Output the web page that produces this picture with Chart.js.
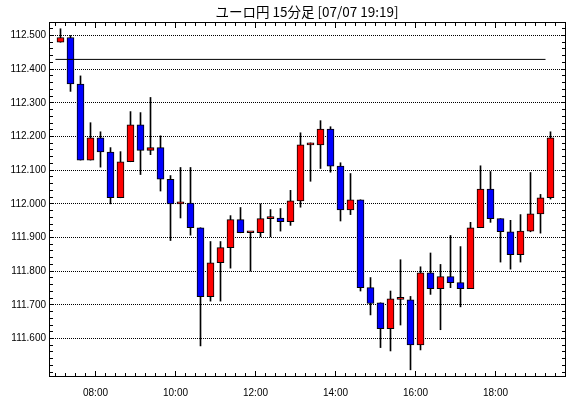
<!DOCTYPE html>
<html><head><meta charset="utf-8">
<script src="https://cdn.jsdelivr.net/npm/chart.js@4/dist/chart.umd.min.js"></script>
<style>html,body{margin:0;padding:0;background:#fff;}canvas{display:block;}</style>
</head><body>
<canvas id="c" width="570" height="398"></canvas>
<script>
const titleText = 'ユーロ円 15分足 [07/07 19:19]';
const times = ['07:00','07:15','07:30','07:45','08:00','08:15','08:30','08:45','09:00','09:15',
  '09:30','09:45','10:00','10:15','10:30','10:45','11:00','11:15','11:30','11:45',
  '12:00','12:15','12:30','12:45','13:00','13:15','13:30','13:45','14:00','14:15',
  '14:30','14:45','15:00','15:15','15:30','15:45','16:00','16:15','16:30','16:45',
  '17:00','17:15','17:30','17:45','18:00','18:15','18:30','18:45','19:00','19:15'];
const open = [112.480,112.494,112.356,112.130,112.196,112.154,112.018,112.125,112.235,112.159,
  112.167,112.073,112.000,112.002,111.929,111.724,111.825,111.870,111.953,111.914,
  111.914,111.956,111.958,111.947,112.009,112.175,112.175,112.222,112.112,111.982,
  112.012,111.751,111.706,111.629,111.716,111.715,111.581,111.795,111.748,111.784,
  111.766,111.748,111.929,112.044,111.956,111.917,111.849,111.919,111.970,112.018];
const high = [112.520,112.500,112.380,112.241,112.214,112.167,112.155,112.274,112.271,112.316,
  112.202,112.084,112.108,112.108,111.929,111.888,111.888,111.965,111.989,111.916,
  112.000,111.983,111.986,112.040,112.211,112.181,112.247,112.229,112.122,112.090,
  112.012,111.781,111.706,111.741,111.834,111.725,111.813,111.854,111.820,111.906,
  111.873,111.945,112.113,112.096,111.956,111.951,111.968,112.093,112.028,112.214];
const low = [112.480,112.334,112.130,112.130,112.109,112.000,112.018,112.125,112.087,112.146,
  112.038,111.891,111.958,111.907,111.578,111.711,111.711,111.809,111.914,111.800,
  111.902,111.902,111.919,111.936,111.990,112.067,112.105,112.094,111.949,111.968,
  111.741,111.670,111.573,111.563,111.640,111.507,111.566,111.731,111.626,111.751,
  111.694,111.748,111.929,111.945,111.827,111.806,111.827,111.917,111.913,112.014];
const close = [112.494,112.356,112.130,112.196,112.154,112.018,112.125,112.235,112.159,112.167,
  112.073,112.000,112.002,111.929,111.724,111.825,111.870,111.953,111.914,111.915,
  111.956,111.958,111.947,112.009,112.175,112.177,112.222,112.112,111.982,112.012,
  111.751,111.704,111.629,111.718,111.718,111.581,111.795,111.748,111.784,111.766,
  111.748,111.929,112.044,111.956,111.917,111.849,111.919,111.970,112.018,112.196];
const xTickLabels = ['08:00','10:00','12:00','14:00','16:00','18:00'];
const yTickLabels = ['111.600','111.700','111.800','111.900','112.000','112.100','112.200','112.300','112.400','112.500'];
const refLevel = 112.429;
const refStartTime = '07:00';
const refEndTime = '19:15';

const UP = '#ff0000', DOWN = '#0000ff';
const wickData = times.map((t, i) => ({x: i, y: [low[i], high[i]]}));
const bodyData = times.map((t, i) => ({x: i, y: [open[i], close[i]]}));
const bodyColors = times.map((t, i) => close[i] >= open[i] ? UP : DOWN);
const refData = [{x: times.indexOf(refStartTime) - 0.5, y: refLevel}, {x: times.indexOf(refEndTime) - 0.5, y: refLevel}];

function align(p) { return Math.round(p - 0.5) + 0.5; }
function xLabel(v) {
  const i = Math.round(v + 0.5);
  const t = times[i];
  return (t && xTickLabels.includes(t)) ? t : '';
}
function yLabel(v) {
  const s = (Math.round(v * 1000) / 1000).toFixed(3);
  return yTickLabels.includes(s) ? s : '';
}

const framePlugin = {
  id: 'frame',
  afterDraw(chart) {
    const {ctx, chartArea: a, scales: {x, y}} = chart;
    ctx.save();
    ctx.strokeStyle = '#000';
    ctx.lineWidth = 1;
    ctx.strokeRect(a.left + 0.5, a.top + 0.5, a.right - a.left, a.bottom - a.top);
    ctx.beginPath();
    y.ticks.forEach(t => {
      const py = align(y.getPixelForValue(t.value));
      ctx.moveTo(a.left, py); ctx.lineTo(a.left + 4, py);
      ctx.moveTo(a.right + 1, py); ctx.lineTo(a.right - 3, py);
    });
    x.ticks.forEach(t => {
      const px = align(x.getPixelForValue(t.value));
      const len = xLabel(t.value) ? 6 : 4;
      ctx.moveTo(px, a.bottom + 1); ctx.lineTo(px, a.bottom + 1 - len);
      ctx.moveTo(px, a.top); ctx.lineTo(px, a.top + len);
    });
    ctx.stroke();
    ctx.fillStyle = '#000';
    ctx.font = '13.5px "Noto Sans CJK JP"';
    ctx.textAlign = 'center';
    ctx.textBaseline = 'middle';
    ctx.fillText(titleText, (a.left + a.right) / 2, 12);
    ctx.restore();
  }
};

const tickFont = {family: 'Liberation Sans', size: 10};

new Chart(document.getElementById('c'), {
  type: 'bar',
  data: {
    datasets: [
      {type: 'line', data: refData, borderColor: '#000', borderWidth: 1, pointRadius: 0, fill: false, order: 0},
      {data: bodyData, backgroundColor: bodyColors, borderColor: '#000', borderWidth: 1, borderSkipped: false,
        barThickness: 7, grouped: false, minBarLength: 2, order: 1},
      {data: wickData, backgroundColor: '#000', borderWidth: 0, barThickness: 1, grouped: false, order: 2}
    ]
  },
  options: {
    responsive: false, animation: false, devicePixelRatio: 1,
    layout: {padding: {top: 22, right: 5, left: 0, bottom: 0}},
    plugins: {legend: {display: false}, tooltip: {enabled: false}, title: {display: false}},
    scales: {
      x: {
        type: 'linear', min: -1.15, max: 50.45, offset: false,
        grid: {display: false}, border: {display: false},
        afterBuildTicks: s => { s.ticks = times.concat(['']).map((t, i) => ({value: i - 0.5})); },
        ticks: {autoSkip: false, maxRotation: 0, minRotation: 0, padding: 3, font: tickFont, color: '#000', callback: v => xLabel(v)},
        afterFit: s => { s.height = 22; }
      },
      y: {
        type: 'linear', min: 111.4886, max: 112.5401,
        grid: {color: '#000', lineWidth: c => (c.tick && yLabel(c.tick.value)) ? 1 : 0, drawTicks: false},
        border: {display: false, dash: [1, 1]},
        afterBuildTicks: s => {
          const arr = [];
          for (let i = 0; i <= 51; i++) arr.push({value: Math.round((111.5 + i * 0.02) * 1000) / 1000});
          s.ticks = arr;
        },
        ticks: {autoSkip: false, padding: 3, font: tickFont, color: '#000', callback: v => yLabel(v)},
        afterFit: s => { s.width = 49; }
      }
    }
  },
  plugins: [framePlugin]
});
</script>
</body></html>
